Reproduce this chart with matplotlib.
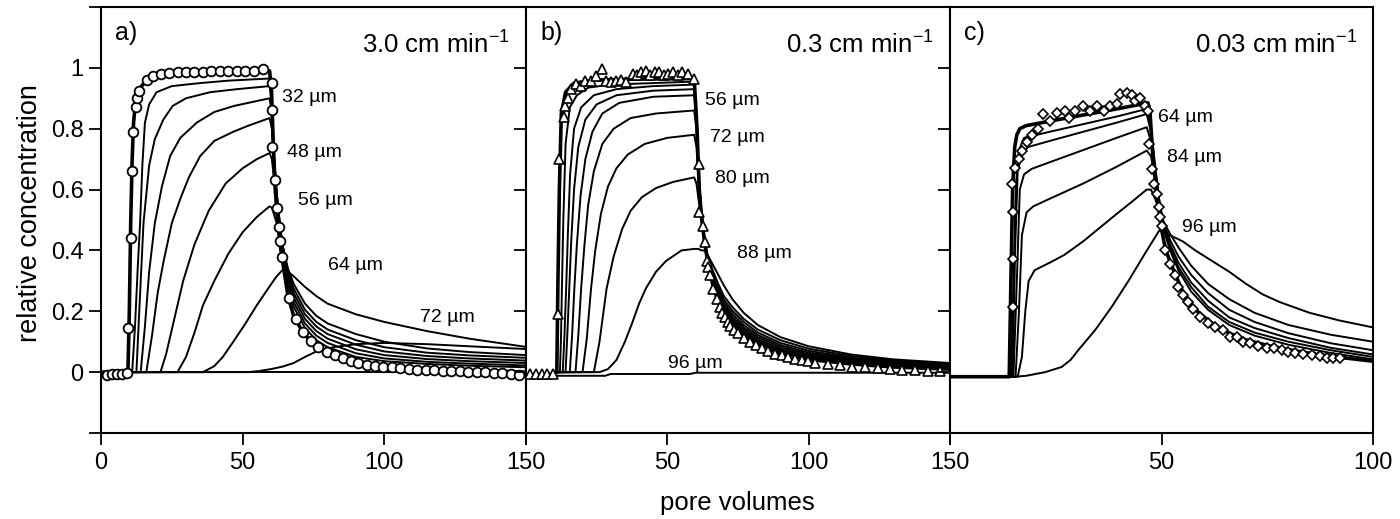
import matplotlib
matplotlib.use("Agg")
import matplotlib.pyplot as plt

plt.rcParams['font.family'] = ['Liberation Sans', 'DejaVu Sans']

# ---------------- axis / text data ----------------
y_ticks = [-0.2, 0, 0.2, 0.4, 0.6, 0.8, 1.0, 1.2]
y_ticklabels = ['', '0', '0.2', '0.4', '0.6', '0.8', '1', '']
xticks_ab = [0, 50, 100, 150]
xticks_c = [0, 50, 100]
xlabels_a = ['0', '50', '100', '150']
xlabels_b = ['', '50', '100', '150']
xlabels_c = ['', '50', '100']
panel_tags = ['a)', 'b)', 'c)']
panel_speeds = ['3.0', '0.3', '0.03']

# ---------------- panel a: 3.0 cm/min ----------------
a_obs_x = [2, 3.8, 5.6, 7.4, 9.3, 9.7, 10.6, 10.8, 11.4, 12.4, 12.6, 13.5, 16.1, 18.5, 21, 24, 27, 30,
           33, 36, 39, 42, 45, 48, 51, 54, 57.3, 60.2, 60.2, 60.3, 61.4, 62.1, 62.7, 63.3, 63.9, 66.5,
           68.8, 71.4, 74, 76.7, 79.7, 82.6, 85.5, 88.1, 90.8, 93.8, 96.7, 99.6, 102.6, 105.6, 108.6,
           111.6, 114.6, 117.6, 120.6, 123.6, 126.6, 129.6, 132.6, 135.6, 138.6, 141.6, 144.6, 147.6]
a_obs_y = [-0.01, -0.005, -0.005, -0.005, -0.003, 0.144, 0.44, 0.66, 0.79, 0.87, 0.9, 0.925, 0.96, 0.974,
           0.98, 0.983, 0.985, 0.986, 0.988, 0.988, 0.989, 0.989, 0.99, 0.99, 0.99, 0.99, 0.995, 0.95,
           0.86, 0.74, 0.63, 0.54, 0.476, 0.43, 0.38, 0.245, 0.176, 0.132, 0.103, 0.083, 0.067, 0.056,
           0.045, 0.037, 0.03, 0.023, 0.02, 0.018, 0.016, 0.012, 0.01, 0.008, 0.007, 0.006, 0.005, 0.004,
           0.003, 0.002, 0.0, 0.0, -0.002, -0.004, -0.006, -0.008]

a_fit_x = [0, 9.5, 10, 10.5, 11, 11.5, 12.2, 13.5, 16, 20, 30, 45, 59.5, 60.2, 60.8, 61.5, 62.3, 63.2, 64,
           66, 68, 71, 74, 78, 84, 90, 100, 115, 130, 150]
a_fit_y = [0, 0, 0.2, 0.5, 0.7, 0.82, 0.89, 0.93, 0.96, 0.975, 0.985, 0.99, 0.99, 0.92, 0.75, 0.6, 0.5,
           0.42, 0.37, 0.25, 0.185, 0.135, 0.1, 0.075, 0.052, 0.036, 0.02, 0.01, 0.005, 0.0]

a_l1_x = [10, 11, 12, 13, 13.8, 14.6, 15.5, 17, 19.6, 25, 35, 45, 59.5, 60.3, 61, 62, 63, 64, 66, 68, 72,
          76, 80, 90, 100, 115, 130, 150]
a_l1_y = [0, 0, 0.15, 0.35, 0.49, 0.68, 0.82, 0.88, 0.92, 0.94, 0.95, 0.958, 0.965, 0.9, 0.72, 0.58, 0.48,
          0.40, 0.29, 0.215, 0.145, 0.105, 0.082, 0.05, 0.036, 0.027, 0.021, 0.016]
a_l2_x = [10, 12.5, 13.5, 15, 17, 19, 22, 25.3, 30, 38.5, 48, 59.5, 60.3, 61, 62, 63, 64, 66, 68, 72, 76,
          80, 90, 100, 115, 130, 150]
a_l2_y = [0, 0, 0.2, 0.49, 0.68, 0.766, 0.83, 0.875, 0.9, 0.92, 0.93, 0.94, 0.88, 0.72, 0.59, 0.49, 0.41,
          0.30, 0.23, 0.16, 0.12, 0.096, 0.062, 0.045, 0.034, 0.028, 0.022]
a_l3_x = [10, 14, 15.5, 17, 19, 21.5, 24.4, 28, 33.8, 40, 47, 52, 59.5, 60.3, 61, 62, 63, 64, 66, 68, 72,
          76, 80, 90, 100, 115, 130, 150]
a_l3_y = [0, 0, 0.15, 0.33, 0.49, 0.61, 0.71, 0.77, 0.82, 0.855, 0.875, 0.885, 0.9, 0.85, 0.71, 0.59, 0.5,
          0.42, 0.31, 0.245, 0.175, 0.135, 0.11, 0.075, 0.056, 0.043, 0.036, 0.03]
a_l4_x = [10, 16, 18, 20, 22, 25, 28, 31, 35, 40, 46.7, 52, 59.5, 60.3, 61, 62, 63, 64, 66, 68, 72, 76,
          80, 90, 100, 115, 130, 150]
a_l4_y = [0, 0, 0.12, 0.26, 0.36, 0.49, 0.57, 0.64, 0.71, 0.76, 0.79, 0.81, 0.835, 0.8, 0.69, 0.585, 0.5,
          0.42, 0.32, 0.26, 0.19, 0.15, 0.125, 0.09, 0.068, 0.053, 0.045, 0.038]
a_l5_x = [10, 21, 23, 26, 29, 33, 38, 44, 50, 55, 59.5, 60.3, 61, 62, 63, 64, 66, 68, 72, 76, 80, 90, 100,
          115, 130, 150]
a_l5_y = [0, 0, 0.06, 0.18, 0.3, 0.42, 0.53, 0.62, 0.67, 0.7, 0.72, 0.7, 0.64, 0.56, 0.49, 0.42, 0.33,
          0.275, 0.205, 0.165, 0.14, 0.105, 0.082, 0.064, 0.055, 0.047]
a_l6_x = [10, 27, 30, 33, 36, 40, 45, 50, 55, 59.5, 60.3, 61, 62, 63, 64, 66, 68, 72, 76, 80, 90, 100, 115,
          130, 150]
a_l6_y = [0, 0, 0.05, 0.13, 0.22, 0.3, 0.39, 0.46, 0.51, 0.545, 0.54, 0.52, 0.49, 0.455, 0.42, 0.34, 0.29,
          0.225, 0.185, 0.16, 0.125, 0.1, 0.078, 0.066, 0.056]
a_l7_x = [10, 36, 40, 43, 46.7, 51, 55, 59, 62, 64, 66, 68, 72, 76, 80, 90, 100, 115, 130, 150]
a_l7_y = [0, 0, 0.02, 0.05, 0.1, 0.16, 0.22, 0.275, 0.315, 0.335, 0.33, 0.315, 0.28, 0.25, 0.225, 0.19,
          0.165, 0.135, 0.11, 0.083]
a_l8_x = [10, 52, 56, 60, 64, 68, 72, 76, 82, 90, 100, 115, 130, 150]
a_l8_y = [0, 0, 0.004, 0.01, 0.018, 0.03, 0.05, 0.068, 0.082, 0.092, 0.096, 0.092, 0.085, 0.076]
a_l9_x = [10, 150]
a_l9_y = [0, 0]

a_labels = ['32 µm', '48 µm', '56 µm', '64 µm', '72 µm']
a_label_x = [63.8, 65.5, 69.6, 80.2, 112.6]
a_label_y = [0.903, 0.722, 0.564, 0.35, 0.178]

# ---------------- panel b: 0.3 cm/min ----------------
b_obs_x = [1.5, 3.5, 5.5, 7.5, 9.6, 11.2, 11.8, 13.5, 13.8, 14.7, 16, 17.7, 19.5, 20.7, 23, 24.8, 27, 28.4,
           30.2, 31.9, 33.7, 35.4, 37.7, 39.2, 40.7, 42.4, 44, 45.6, 47.2, 48.8, 50.4, 52, 53.6, 55.2,
           57.2, 59.5, 61.1, 61.3, 62.7, 63.3, 63.9, 64.3, 65.1, 66.3, 67.5, 68.6, 69.5, 70.4, 71.3, 72.2,
           73.6, 75.1, 77, 79.2, 81.3, 83.4, 85.7, 88.1, 90.4, 92.8, 95, 97.5, 99.8, 102.2, 106.9, 111.1,
           115.2, 119.9, 124.6, 128.8, 132.9, 137.6, 142.3, 146.4]
b_obs_y = [-0.005, -0.005, -0.005, -0.005, -0.005, 0.19, 0.70, 0.84, 0.875, 0.90, 0.93, 0.946, 0.94, 0.957,
           0.957, 0.974, 0.995, 0.957, 0.955, 0.957, 0.96, 0.952, 0.98, 0.975, 0.985, 0.99, 0.975, 0.985,
           0.985, 0.975, 0.98, 0.985, 0.975, 0.985, 0.98, 0.963, 0.684, 0.525, 0.48, 0.427, 0.365, 0.345,
           0.318, 0.274, 0.242, 0.214, 0.195, 0.18, 0.165, 0.153, 0.14, 0.127, 0.112, 0.1, 0.088, 0.078,
           0.07, 0.061, 0.055, 0.05, 0.044, 0.039, 0.035, 0.031, 0.028, 0.023, 0.018, 0.016, 0.013, 0.01,
           0.008, 0.006, 0.005, 0.003]

b_fit_x = [10.9, 11.3, 11.8, 12.5, 14, 17, 25, 40, 59.5, 60.5, 61.3, 62, 63, 64, 66, 68, 70, 73, 77, 82,
           90, 100, 115, 130, 150]
b_fit_y = [0, 0.3, 0.6, 0.85, 0.92, 0.95, 0.96, 0.963, 0.965, 0.8, 0.6, 0.52, 0.44, 0.38, 0.29, 0.23,
           0.19, 0.155, 0.12, 0.09, 0.062, 0.042, 0.027, 0.017, 0.01]

b_tail_x = [64, 66, 68, 70, 73, 77, 82, 90, 100, 115, 130, 150]

b_l1_x = [10.9, 12, 12.4, 12.7, 13.2, 14, 15.5, 18, 22, 30, 45, 59.5, 60.3, 61, 62, 63] + b_tail_x
b_l1_y = [0, 0, 0.12, 0.274, 0.5, 0.75, 0.87, 0.91, 0.935, 0.945, 0.95, 0.955, 0.85, 0.65, 0.52, 0.44,
          0.385, 0.295, 0.24, 0.2, 0.162, 0.127, 0.096, 0.067, 0.046, 0.03, 0.02, 0.013]
b_l2_x = [10.9, 13, 13.6, 14.2, 14.8, 15.6, 17, 19.5, 24, 32, 45, 59.5, 60.3, 61, 62, 63] + b_tail_x
b_l2_y = [0, 0, 0.12, 0.274, 0.45, 0.65, 0.8, 0.87, 0.91, 0.93, 0.94, 0.945, 0.85, 0.66, 0.52, 0.44,
          0.385, 0.3, 0.245, 0.205, 0.168, 0.133, 0.102, 0.072, 0.05, 0.033, 0.022, 0.015]
b_l3_x = [10.9, 14, 14.6, 15.3, 16, 17, 18.5, 21, 25, 32, 45, 59.5, 60.3, 61, 62, 63] + b_tail_x
b_l3_y = [0, 0, 0.12, 0.274, 0.43, 0.6, 0.74, 0.83, 0.88, 0.91, 0.925, 0.93, 0.84, 0.66, 0.53, 0.445,
          0.385, 0.305, 0.25, 0.212, 0.175, 0.14, 0.108, 0.077, 0.054, 0.036, 0.025, 0.017]
b_l4_x = [10.9, 15.5, 16.3, 17.1, 18, 19.3, 21, 23.5, 27, 33, 45, 59.5, 60.3, 61, 62, 63] + b_tail_x
b_l4_y = [0, 0, 0.12, 0.274, 0.42, 0.58, 0.7, 0.79, 0.85, 0.885, 0.905, 0.91, 0.83, 0.66, 0.53, 0.45,
          0.385, 0.31, 0.258, 0.22, 0.183, 0.147, 0.115, 0.083, 0.059, 0.04, 0.028, 0.019]
b_l5_x = [10.9, 17.5, 18.5, 19.5, 20.7, 22, 24, 27, 31, 37, 46, 59.5, 60.3, 61, 62, 63] + b_tail_x
b_l5_y = [0, 0, 0.12, 0.274, 0.42, 0.55, 0.66, 0.75, 0.8, 0.835, 0.85, 0.86, 0.8, 0.65, 0.53, 0.45,
          0.387, 0.318, 0.267, 0.228, 0.192, 0.155, 0.122, 0.089, 0.064, 0.044, 0.031, 0.021]
b_l6_x = [10.9, 20, 21.5, 23, 24.5, 26.5, 29, 32, 36, 42, 50, 59.5, 60.3, 61, 62, 63] + b_tail_x
b_l6_y = [0, 0, 0.11, 0.274, 0.4, 0.52, 0.61, 0.67, 0.715, 0.75, 0.77, 0.78, 0.74, 0.63, 0.53, 0.45,
          0.388, 0.326, 0.277, 0.238, 0.202, 0.165, 0.13, 0.096, 0.07, 0.048, 0.034, 0.024]
b_l7_x = [10.9, 24, 26, 28.5, 31, 34, 37, 41, 46, 52, 59.5, 60.3, 61, 62, 63] + b_tail_x
b_l7_y = [0, 0, 0.1, 0.274, 0.38, 0.47, 0.53, 0.575, 0.605, 0.625, 0.64, 0.62, 0.57, 0.5, 0.44,
          0.39, 0.336, 0.29, 0.25, 0.214, 0.175, 0.14, 0.105, 0.077, 0.053, 0.038, 0.027]
b_l8_x = [10.9, 26, 29, 32, 35, 37.7, 40, 42.4, 46, 49.5, 55, 59.5, 61, 62, 63] + b_tail_x
b_l8_y = [0, 0, 0.01, 0.04, 0.1, 0.165, 0.225, 0.275, 0.33, 0.365, 0.4, 0.405, 0.405, 0.4, 0.4,
          0.39, 0.355, 0.32, 0.285, 0.24, 0.195, 0.155, 0.115, 0.085, 0.058, 0.042, 0.03]
b_l9_x = [10.9, 28, 30, 58, 60, 150]
b_l9_y = [-0.012, -0.012, -0.006, -0.006, -0.002, -0.002]

b_labels = ['56 µm', '72 µm', '80 µm', '88 µm', '96 µm']
b_label_x = [63.3, 65.1, 66.9, 74.5, 50.3]
b_label_y = [0.892, 0.772, 0.635, 0.389, 0.028]

# ---------------- panel c: 0.03 cm/min ----------------
c_obs_x = [15, 15, 14.8, 14.6, 15.4, 16.2, 17, 18.1, 19.3, 20.9, 22.1, 23.6, 25.2, 27.2, 28.2, 29.6, 31.5,
           33.1, 34.7, 36.3, 37.8, 39.4, 40.2, 41.8, 43, 43.7, 44.9, 46.1, 46.9, 47.1, 47.7, 48.2, 48.9,
           49.3, 49.6, 50.2, 50.8, 52, 53.2, 54, 55.2, 56.3, 57.5, 59.1, 61.1, 62.6, 64.6, 66.2, 67.8,
           69.3, 70.9, 72.9, 74.9, 76.5, 78.4, 80, 81.6, 83.5, 85.5, 87.5, 89.1, 90.6, 92.2]
c_obs_y = [0.214, 0.373, 0.526, 0.619, 0.671, 0.70, 0.728, 0.755, 0.78, 0.80, 0.848, 0.826, 0.853, 0.859,
           0.835, 0.859, 0.875, 0.859, 0.875, 0.859, 0.875, 0.881, 0.914, 0.919, 0.91, 0.892, 0.9, 0.875,
           0.859, 0.75, 0.668, 0.619, 0.586, 0.542, 0.509, 0.48, 0.4, 0.356, 0.318, 0.28, 0.252, 0.23,
           0.209, 0.181, 0.16, 0.147, 0.138, 0.116, 0.116, 0.1, 0.097, 0.085, 0.078, 0.078, 0.072, 0.067,
           0.063, 0.061, 0.056, 0.053, 0.048, 0.048, 0.048]

c_fit_x = [0, 14, 14.4, 14.8, 15.3, 15.8, 16.5, 18, 23.6, 31.5, 39.4, 46.8, 47.3, 48, 49, 50, 51, 53, 55,
           58, 62, 66, 70, 75, 80, 85, 90, 95, 100]
c_fit_y = [-0.015, -0.015, 0.3, 0.6, 0.74, 0.78, 0.8, 0.81, 0.825, 0.845, 0.865, 0.885, 0.85, 0.7, 0.57,
           0.47, 0.4, 0.33, 0.265, 0.205, 0.16, 0.128, 0.106, 0.088, 0.074, 0.062, 0.052, 0.044, 0.036]

c_tail_x = [46.5, 47.5, 48.5, 49.5, 50.5, 52, 54, 57, 61, 66, 72, 80, 90, 100]

c_l1_x = [0, 14.5, 15, 15.6, 16.3, 17.5, 23.6, 31.5, 39.4] + c_tail_x
c_l1_y = [-0.015, -0.015, 0.3, 0.62, 0.73, 0.77, 0.79, 0.815, 0.84, 0.865, 0.8, 0.68, 0.56, 0.47, 0.4,
          0.335, 0.265, 0.205, 0.155, 0.12, 0.09, 0.063, 0.042]
c_l2_x = [0, 14.8, 15.4, 16, 17, 18.5, 23.6, 31.5, 39.4] + c_tail_x
c_l2_y = [-0.015, -0.015, 0.4, 0.66, 0.72, 0.74, 0.76, 0.79, 0.82, 0.848, 0.79, 0.67, 0.56, 0.475, 0.41,
          0.345, 0.28, 0.215, 0.165, 0.13, 0.1, 0.072, 0.05]
c_l3_x = [0, 15, 15.8, 16.5, 17.5, 19.3, 23.6, 31.5, 39.4] + c_tail_x
c_l3_y = [-0.015, -0.015, 0.3, 0.6, 0.65, 0.668, 0.69, 0.73, 0.77, 0.805, 0.76, 0.66, 0.56, 0.48, 0.42,
          0.36, 0.295, 0.235, 0.18, 0.145, 0.112, 0.08, 0.058]
c_l4_x = [0, 15.5, 16.3, 17, 18.1, 19.7, 23.6, 31.5, 39.4] + c_tail_x
c_l4_y = [-0.015, -0.015, 0.2, 0.45, 0.525, 0.545, 0.57, 0.62, 0.675, 0.728, 0.71, 0.64, 0.56, 0.49,
          0.435, 0.38, 0.32, 0.26, 0.205, 0.165, 0.128, 0.095, 0.072]
c_l5_x = [0, 16, 17, 17.8, 18.6, 20, 23.6, 27, 31.5, 35, 39.4, 43] + c_tail_x
c_l5_y = [-0.015, -0.015, 0.05, 0.2, 0.3, 0.335, 0.36, 0.385, 0.43, 0.47, 0.52, 0.56, 0.6, 0.6, 0.57,
          0.53, 0.495, 0.455, 0.41, 0.35, 0.29, 0.24, 0.195, 0.155, 0.123, 0.1]
c_l6_x = [0, 15.5, 18, 22.5, 26.4, 28.5, 30.3, 34.3, 38.2, 42.2, 46.1, 49.5, 52, 55, 58, 62, 66, 70, 74,
          78, 85, 92, 100]
c_l6_y = [-0.015, -0.015, -0.012, 0.0, 0.017, 0.04, 0.072, 0.138, 0.214, 0.30, 0.39, 0.466, 0.45, 0.43,
          0.4, 0.365, 0.33, 0.29, 0.255, 0.23, 0.195, 0.17, 0.147]

c_labels = ['64 µm', '84 µm', '96 µm']
c_label_x = [49.2, 51.2, 54.8]
c_label_y = [0.837, 0.706, 0.476]

# ---------------- figure ----------------
W, H = 1400, 519
fig = plt.figure(figsize=(W / 100, H / 100), dpi=100)
bottom = 1 - 433 / H
height = 426 / H
ax_a = fig.add_axes([101 / W, bottom, 425 / W, height])
ax_b = fig.add_axes([526 / W, bottom, 424 / W, height])
ax_c = fig.add_axes([950 / W, bottom, 423 / W, height])

thin = dict(color='black', lw=1.4, solid_joinstyle='round', zorder=2)
thick = dict(color='black', lw=2.6, solid_joinstyle='round', zorder=3)
lab_fs = 14


def setup(ax, xmax, xt, xl, ylab):
    ax.set_xlim(0, xmax)
    ax.set_ylim(-0.2, 1.197)
    ax.set_xticks(xt)
    ax.set_xticklabels(xl)
    ax.set_yticks(y_ticks)
    ax.set_yticklabels(y_ticklabels if ylab else [''] * len(y_ticks))
    ax.tick_params(direction='out', length=8.5, width=1.3, labelsize=17, pad=4,
                   colors='black')
    ax.tick_params(axis='x', pad=5)
    for sp in ax.spines.values():
        sp.set_linewidth(1.5)


# panel a
for xs, ys in [(a_l9_x, a_l9_y), (a_l8_x, a_l8_y), (a_l7_x, a_l7_y), (a_l6_x, a_l6_y), (a_l5_x, a_l5_y),
               (a_l4_x, a_l4_y), (a_l3_x, a_l3_y), (a_l2_x, a_l2_y), (a_l1_x, a_l1_y)]:
    ax_a.plot(xs, ys, **thin)
ax_a.plot(a_fit_x, a_fit_y, **thick)
ax_a.plot(a_obs_x, a_obs_y, 'o', ms=7, mfc='white', mec='black', mew=1.3, zorder=4, clip_on=True)
for t, x, y in zip(a_labels, a_label_x, a_label_y):
    ax_a.text(x, y, t, fontsize=lab_fs, ha='left', va='center', zorder=5)
setup(ax_a, 150, xticks_ab, xlabels_a, True)

# panel b
for xs, ys in [(b_l9_x, b_l9_y), (b_l8_x, b_l8_y), (b_l7_x, b_l7_y), (b_l6_x, b_l6_y), (b_l5_x, b_l5_y),
               (b_l4_x, b_l4_y), (b_l3_x, b_l3_y), (b_l2_x, b_l2_y), (b_l1_x, b_l1_y)]:
    ax_b.plot(xs, ys, **thin)
ax_b.plot(b_fit_x, b_fit_y, **thick)
ax_b.plot(b_obs_x, b_obs_y, '^', ms=6.5, mfc='white', mec='black', mew=1.2, zorder=4)
for t, x, y in zip(b_labels, b_label_x, b_label_y):
    ax_b.text(x, y, t, fontsize=lab_fs, ha='left', va='center', zorder=5)
setup(ax_b, 150, xticks_ab, xlabels_b, False)

# panel c
for xs, ys in [(c_l6_x, c_l6_y), (c_l5_x, c_l5_y), (c_l4_x, c_l4_y), (c_l3_x, c_l3_y), (c_l2_x, c_l2_y),
               (c_l1_x, c_l1_y)]:
    ax_c.plot(xs, ys, **thin)
ax_c.plot(c_fit_x, c_fit_y, **thick)
ax_c.plot(c_obs_x, c_obs_y, 'D', ms=5, mfc='white', mec='black', mew=1.2, zorder=4)
for t, x, y in zip(c_labels, c_label_x, c_label_y):
    ax_c.text(x, y, t, fontsize=lab_fs, ha='left', va='center', zorder=5)
setup(ax_c, 100, xticks_c, xlabels_c, False)

for ax, tag, sp in zip([ax_a, ax_b, ax_c], panel_tags, panel_speeds):
    ax.text(0.033, 0.94, tag, transform=ax.transAxes, fontsize=18, ha='left', va='center')
    ax.text(0.962, 0.915, sp + r' cm min$^{\mathregular{-1}}$', transform=ax.transAxes, fontsize=18.5,
            ha='right', va='center')

fig.text(737 / W, 1 - 503 / H, 'pore volumes', fontsize=18.5, ha='center', va='center')
fig.text(30 / W, 1 - 213 / H, 'relative concentration', fontsize=19.5, ha='center', va='center',
         rotation=90)

fig.savefig('out.png', dpi=100, facecolor='white')
